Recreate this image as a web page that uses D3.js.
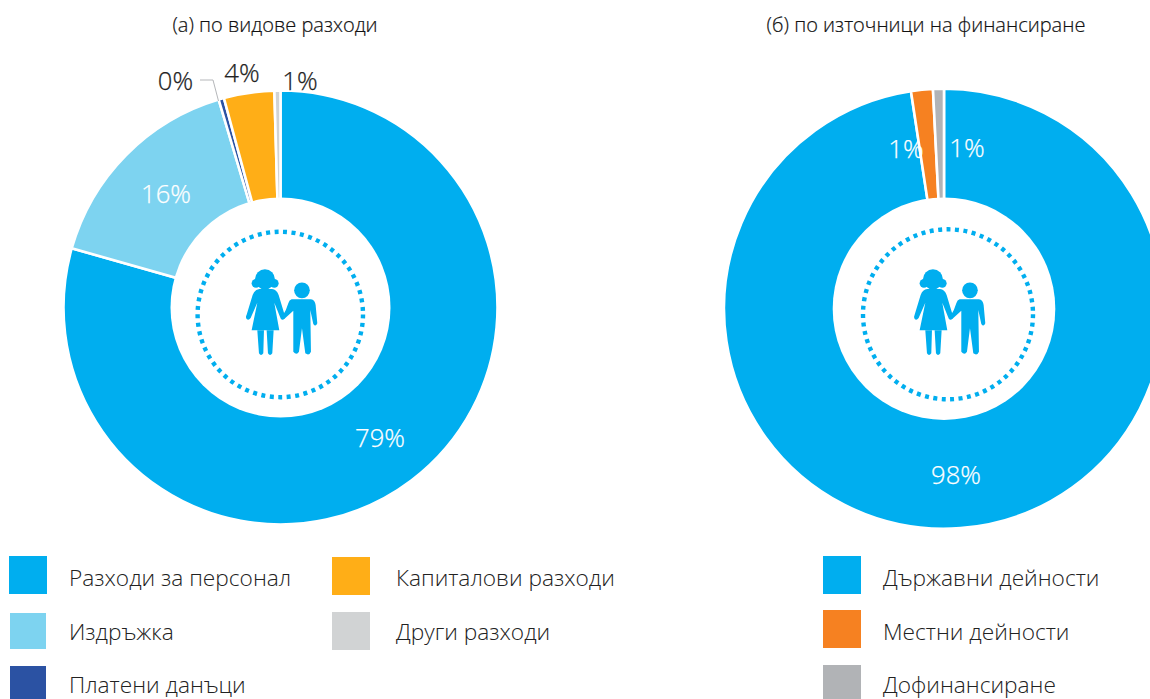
<!DOCTYPE html>
<html><head><meta charset="utf-8">
<script src="https://cdn.jsdelivr.net/npm/d3@7/dist/d3.min.js"></script>
<style>html,body{margin:0;padding:0;background:#fff}svg{display:block}text{font-family:"Open Sans",sans-serif}</style>
</head><body><svg id="c" width="1150" height="699"></svg>
<script>
// Data
const titleA = "(а) по видове разходи";
const titleB = "(б) по източници на финансиране";
const categoriesA = ["Разходи за персонал","Издръжка","Платени данъци","Капиталови разходи","Други разходи"];
const valuesA = [79.4,16.0,0.4,3.75,0.45];
const labelsA = ["79%","16%","0%","4%","1%"];
const coloursA = ["#00aeef","#7dd3f0","#2b52a3","#ffae17","#d1d3d4"];
const categoriesB = ["Държавни дейности","Местни дейности","Дофинансиране"];
const valuesB = [97.6,1.6,0.8];
const labelsB = ["98%","1%","1%"];
const coloursB = ["#00aeef","#f68121","#b1b3b6"];

const svg = d3.select("#c");
const pie = d3.pie().sort(null);

function donut(cfg){
  const arcs = pie(cfg.values);
  const arc = d3.arc().innerRadius(cfg.r0 - 4).outerRadius(cfg.r1);
  const g = svg.append("g").attr("transform",`translate(${cfg.cx},${cfg.cy})`);
  const drawSlice = d => g.append("path").attr("d",arc(d)).attr("fill",cfg.colours[d.index])
      .attr("stroke","#fff").attr("stroke-width",cfg.sw).attr("stroke-linejoin","miter");
  const drawLabel = (d,i) => svg.append("text").attr("x",cfg.labelPos[i][0]).attr("y",cfg.labelPos[i][1])
      .attr("text-anchor","middle").attr("font-size",25.6).attr("font-weight",300)
      .attr("fill",cfg.labelCol[i]).attr("stroke",cfg.labelCol[i]).attr("stroke-width",0.25).text(cfg.labels[i]);
  arcs.forEach(d=>{ if(!cfg.top.includes(d.index)) drawSlice(d); });
  cfg.under.forEach(i=>drawLabel(arcs[i],i));
  const gTop = arcs.filter(d=>cfg.top.includes(d.index));
  gTop.forEach(drawSlice);
  cfg.labels.forEach((l,i)=>{ if(!cfg.under.includes(i)) drawLabel(arcs[i],i); });
  g.append("circle").attr("r",cfg.r0).attr("fill","#fff");
  // dotted ring
  svg.append("circle").attr("cx",cfg.ringX).attr("cy",cfg.ringY).attr("r",cfg.ringR)
    .attr("fill","none").attr("stroke","#00aeef").attr("stroke-width",4.4)
    .attr("stroke-dasharray",`4 ${2*Math.PI*cfg.ringR/cfg.dots-4}`);
  // icon: drawn in a 3x design grid
  const ic = svg.append("g").attr("transform",`translate(${cfg.iconX},${cfg.iconY}) scale(0.3333) translate(-400,-350)`).attr("fill","#00aeef");
  ic.append("circle").attr("cx",345).attr("cy",268).attr("r",30);
  ic.append("circle").attr("cx",318).attr("cy",280).attr("r",13);
  ic.append("circle").attr("cx",373).attr("cy",280).attr("r",13);
  ic.append("path").attr("d","M328 297 H366 Q380 298 386 315 L405 378 Q405 390 396 389 Q392 387 390 380 L373 338 L388 421 H305 L322 338 L302 384 Q296 392 290 387 Q286 382 290 374 L308 315 Q314 298 328 297Z");
  ic.append("path").attr("d","M322 421 H342 L340 490 Q333 500 327 490Z M350 421 H371 L367 490 Q360 500 354 490Z");
  ic.append("circle").attr("cx",456).attr("cy",301).attr("r",23.5);
  ic.append("path").attr("d","M425 328 H483 Q495 330 497 345 L502 400 Q497 412 490 402 L481 360 L483 485 Q478 498 466 490 L456 415 L447 485 Q440 498 430 485 L430 362 L402 388 L396 380 Q410 360 415 340 Q418 330 425 328Z");
  svg.append("text").attr("x",cfg.titleX).attr("y",32).attr("text-anchor","middle")
    .attr("font-size",20).attr("font-weight",300).attr("fill","#111").attr("stroke","#111").attr("stroke-width",0.2).text(cfg.title);
}

donut({cx:280.5,cy:307.5,r0:110,r1:217,sw:2.6,values:valuesA,colours:coloursA,labels:labelsA,
  labelCol:["#fff","#fff","#222","#222","#222"],
  labelPos:[[380,447],[166,203],[175.5,90],[242,82],[300,90]],
  under:[],top:[],ringX:280.3,ringY:314.5,ringR:82.7,dots:61,iconX:283.3,iconY:306.7,titleX:275,title:titleA});
donut({cx:944,cy:308.7,r0:111.3,r1:220,sw:2.6,values:valuesB,colours:coloursB,labels:labelsB,
  labelCol:["#fff","#fff","#fff"],
  labelPos:[[956,484],[906,158],[967,157]],
  under:[1],top:[1,2],ringX:948,ringY:314.3,ringR:85,dots:63,iconX:951.3,iconY:306.7,titleX:926,title:titleB});

// leader line for the 0% label
svg.append("path").attr("d",d3.line()([[200,80],[213,80],[218.5,101]])).attr("fill","none").attr("stroke","#b5b7ba").attr("stroke-width",1);

// legends
const legendRowsA = [[9,556,38,69,586,0],[10,613,36,69,640,1],[10,666,36,69,693,2],[332,557,38,396,586,3],[332,612,38,396,640,4]];
const legendRowsB = [[823,556,38,883,586,0],[823,610,38,883,640,1],[823,665,38,883,693,2]];
function legend(rows,cats,cols){
  rows.forEach(r=>{
    svg.append("rect").attr("x",r[0]).attr("y",r[1]).attr("width",r[2]).attr("height",r[2]).attr("fill",cols[r[5]]);
    svg.append("text").attr("x",r[3]).attr("y",r[4]).attr("font-size",22.7).attr("font-weight",300).attr("fill","#222").text(cats[r[5]]);
  });
}
legend(legendRowsA,categoriesA,coloursA);
legend(legendRowsB,categoriesB,coloursB);
</script></body></html>
